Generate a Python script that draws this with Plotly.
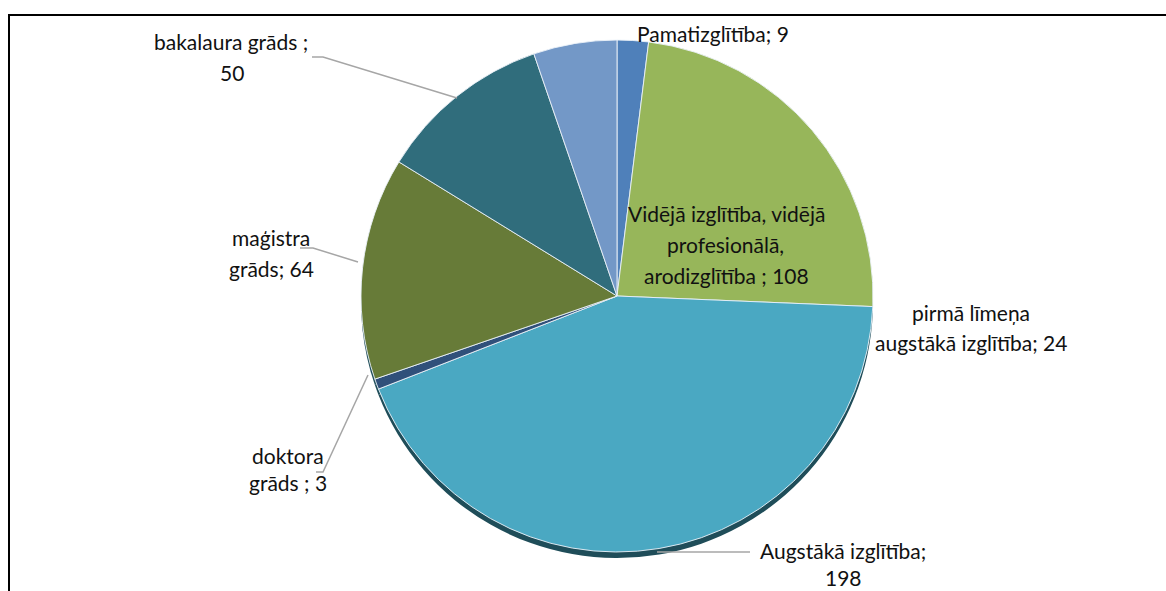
import plotly.graph_objects as go

W, H = 1166, 591

# ---- data (clockwise from 12 o'clock) ----
categories = [
    "Pamatizglītība",
    "Vidējā izglītība, vidējā profesionālā, arodizglītība",
    "Augstākā izglītība",
    "doktora grāds",
    "maģistra grāds",
    "bakalaura grāds",
    "pirmā līmeņa augstākā izglītība",
]
values = [9, 108, 198, 3, 64, 50, 24]
colors = ["#4F80BA", "#97B65A", "#4AA8C2", "#30507A", "#677B38", "#306D7C", "#7398C7"]

# label lines as shown in the reference (text, centre x px, centre y px)
label_lines = [
    ("bakalaura grāds ;", 231, 42), ("50", 232, 72),
    ("Pamatizglītība; 9", 713, 33),
    ("Vidējā izglītība, vidējā", 726, 213), ("profesionālā,", 725, 244),
    ("arodizglītība ; 108", 726, 275),
    ("pirmā līmeņa", 971, 312), ("augstākā izglītība; 24", 971, 342),
    ("maģistra", 271, 237), ("grāds; 64", 271, 268),
    ("doktora", 288, 455), ("grāds ; 3", 288, 482),
    ("Augstākā izglītība;", 843, 550), ("198", 843, 577),
]

# leader lines (pixel polylines)
leaders = [
    [(312, 57), (323, 57), (457, 98)],
    [(300, 248), (313, 248), (358, 262)],
    [(316, 472), (323, 472), (368, 375)],
    [(657, 552), (750, 552)],
]

def px(x):
    return x / W

def py(y):
    return 1 - y / H

cx, cy, r = 617, 296, 256
shadow_dy = 6

fig = go.Figure()
fig.add_trace(go.Pie(
    labels=categories, values=values, sort=False, direction="clockwise", rotation=0,
    marker=dict(colors=["#1F4D59"] * len(values), line=dict(width=0)),
    textinfo="none", hoverinfo="skip", showlegend=False,
    domain=dict(x=[px(cx - r), px(cx + r)], y=[py(cy + r + shadow_dy), py(cy - r + shadow_dy)]),
))
fig.add_trace(go.Pie(
    labels=categories, values=values, sort=False, direction="clockwise", rotation=0,
    marker=dict(colors=colors, line=dict(color="rgba(235,242,248,0.9)", width=1)),
    textinfo="none", showlegend=False,
    domain=dict(x=[px(cx - r), px(cx + r)], y=[py(cy + r), py(cy - r)]),
))

annotations = []
for text, x, y in label_lines:
    annotations.append(dict(
        text=text, x=px(x), y=py(y), xref="paper", yref="paper",
        xanchor="center", yanchor="middle", showarrow=False,
        font=dict(family="Lato, Carlito, sans-serif", size=21, color="#111111"),
    ))

shapes = []
for pts in leaders:
    path = "M " + " L ".join(f"{px(x)},{py(y)}" for x, y in pts)
    shapes.append(dict(type="path", path=path, xref="paper", yref="paper",
                       line=dict(color="#A6A6A6", width=1.5)))
# chart frame
shapes.append(dict(type="rect", xref="paper", yref="paper",
                   x0=px(9), x1=px(1190), y0=py(620), y1=py(15),
                   line=dict(color="#000000", width=2), fillcolor="rgba(0,0,0,0)"))

fig.update_layout(
    width=W, height=H, margin=dict(l=0, r=0, t=0, b=0),
    paper_bgcolor="white", plot_bgcolor="white",
    annotations=annotations, shapes=shapes, showlegend=False,
)

fig.write_html("out.html", config={"displayModeBar": False},
               post_script="document.body.style.margin='0';document.body.style.overflow='hidden';")
